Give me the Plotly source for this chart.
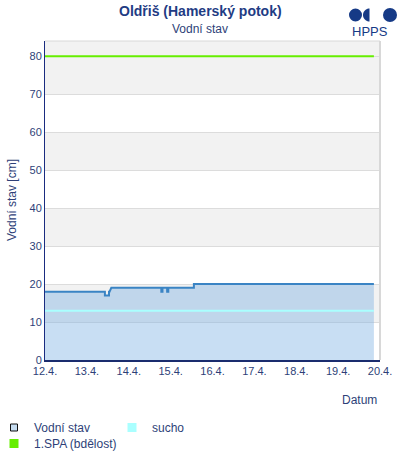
import plotly.graph_objects as go
import math

# ---- data ----
level_times = [
    "2025-04-12 00:00", "2025-04-13 10:20", "2025-04-13 10:20", "2025-04-13 12:40",
    "2025-04-13 12:40", "2025-04-13 13:00", "2025-04-13 14:00", "2025-04-14 18:40",
    "2025-04-14 18:40", "2025-04-14 19:20", "2025-04-14 19:20", "2025-04-14 22:00",
    "2025-04-14 22:00", "2025-04-14 22:40", "2025-04-14 22:40", "2025-04-15 13:20",
    "2025-04-15 13:20", "2025-04-19 20:30",
]
level_values = [18, 18, 17, 17, 18, 18, 19, 19, 18, 18, 19, 19, 18, 18, 19, 19, 20, 20]

limit_times = ["2025-04-12 00:00", "2025-04-19 20:30"]
sucho_values = [13, 13]
spa1_values = [80, 80]

tick_dates = ["2025-04-12", "2025-04-13", "2025-04-14", "2025-04-15", "2025-04-16",
              "2025-04-17", "2025-04-18", "2025-04-19", "2025-04-20"]
tick_labels = ["12.4.", "13.4.", "14.4.", "15.4.", "16.4.", "17.4.", "18.4.", "19.4.", "20.4."]
y_ticks = [0, 10, 20, 30, 40, 50, 60, 70, 80]

FONT = "Arial, Liberation Sans, sans-serif"
NAVY = "#1f3c84"
TXT = "#2e3f78"

W, H = 400, 460
PL, PR, PT, PB = 45, 380, 41, 360   # plot area in pixels

fig = go.Figure()

fig.add_trace(go.Scatter(
    x=level_times, y=level_values, mode="lines", fill="tozeroy",
    line=dict(color="#3a84c4", width=2), fillcolor="rgba(124,176,226,0.42)",
    showlegend=False, hoverinfo="x+y"))
fig.add_trace(go.Scatter(
    x=limit_times, y=sucho_values, mode="lines",
    line=dict(color="#aaffff", width=2), showlegend=False))
fig.add_trace(go.Scatter(
    x=limit_times, y=spa1_values, mode="lines",
    line=dict(color="#66ee00", width=2), showlegend=False))

# legend entries
fig.add_trace(go.Scatter(x=[None], y=[None], mode="markers", name="Vodní stav",
                         legend="legend",
                         marker=dict(symbol="square", size=7, color="#c6dcf0",
                                     line=dict(color="#111111", width=1))))
fig.add_trace(go.Scatter(x=[None], y=[None], mode="markers", name="sucho",
                         legend="legend",
                         marker=dict(symbol="square", size=9, color="#aaffff")))
fig.add_trace(go.Scatter(x=[None], y=[None], mode="markers", name="1.SPA (bdělost)",
                         legend="legend2",
                         marker=dict(symbol="square", size=9, color="#66ee00")))

def px(xp):
    return (xp - PL) / (PR - PL)
def py(yp):
    return (PB - yp) / (PB - PT)

shapes = []
for lo, hi in [(10, 20), (30, 40), (50, 60), (70, 84)]:
    shapes.append(dict(type="rect", xref="paper", yref="y", x0=0, x1=1, y0=lo, y1=hi,
                       fillcolor="#f2f2f2", line=dict(width=0), layer="below"))
shapes.append(dict(type="line", xref="paper", yref="paper", x0=0, x1=1, y0=1, y1=1,
                   line=dict(color="#d8d8d8", width=1)))
shapes.append(dict(type="line", xref="paper", yref="paper", x0=1, x1=1, y0=0, y1=1,
                   line=dict(color="#d8d8d8", width=2)))

# HPPS logo
logo_col = "#163a86"
shapes.append(dict(type="circle", xref="paper", yref="paper",
                   x0=px(349), x1=px(362), y0=py(21.5), y1=py(8.5),
                   fillcolor=logo_col, line=dict(width=0)))
ccx, ccy, r = 369.5, 15, 6.5
pts = []
for i in range(0, 21):
    a = math.pi / 2 + math.pi * i / 20
    pts.append((px(ccx + r * math.cos(a)), py(ccy - r * math.sin(a))))
path = "M " + " L ".join(f"{x:.5f},{y:.5f}" for x, y in pts) + " Z"
shapes.append(dict(type="path", xref="paper", yref="paper", path=path,
                   fillcolor=logo_col, line=dict(width=0)))
shapes.append(dict(type="circle", xref="paper", yref="paper",
                   x0=px(383), x1=px(397), y0=py(22), y1=py(8),
                   fillcolor=logo_col, line=dict(width=0)))

def ann(text, x, y, size, color, xanchor="center", angle=0):
    return dict(text=text, xref="paper", yref="paper", x=px(x), y=py(y),
                xanchor=xanchor, yanchor="middle", showarrow=False, textangle=angle,
                font=dict(size=size, color=color, family=FONT))

annotations = [
    ann("<b>Oldřiš (Hamerský potok)</b>", 200, 11, 14, NAVY),
    ann("Vodní stav", 200, 29, 12, TXT),
    ann("HPPS", 370, 31, 13, logo_col),
    ann("Datum", 379, 400, 12, TXT, xanchor="right"),
    ann("Vodní stav [cm]", 12, 200, 12, TXT, angle=-90),
]

legend_common = dict(orientation="h", xref="paper", yref="paper", xanchor="left",
                     yanchor="top", font=dict(size=12, color=TXT, family=FONT),
                     itemclick=False, itemdoubleclick=False,
                     bgcolor="rgba(0,0,0,0)")

fig.update_layout(
    width=W, height=H,
    margin=dict(l=PL, r=W - PR, t=PT, b=H - PB, autoexpand=False),
    paper_bgcolor="white", plot_bgcolor="white",
    font=dict(family=FONT, size=11, color=TXT),
    shapes=shapes, annotations=annotations,
    showlegend=True,
    legend=dict(x=px(-6), y=py(413), entrywidth=73, **legend_common),
    legend2=dict(x=px(-6), y=py(429), entrywidth=0, **legend_common),
    xaxis=dict(range=["2025-04-12 00:00", "2025-04-20 00:00"], tickvals=tick_dates,
               ticktext=tick_labels, showgrid=False, zeroline=False,
               showline=True, linecolor="#1a2c6e", linewidth=2, ticks="",
               tickfont=dict(size=11, color=TXT), fixedrange=True, automargin=False),
    yaxis=dict(range=[0, 84], tickvals=y_ticks, showgrid=True, gridcolor="#dcdcdc",
               gridwidth=1, zeroline=False, showline=True, linecolor="#1a2c80",
               linewidth=1, ticks="", tickfont=dict(size=11, color=TXT),
               fixedrange=True, layer="above traces", automargin=False),
)

fig.write_html("out.html", config={"displayModeBar": False},
               post_script="document.body.style.margin='0px';")
